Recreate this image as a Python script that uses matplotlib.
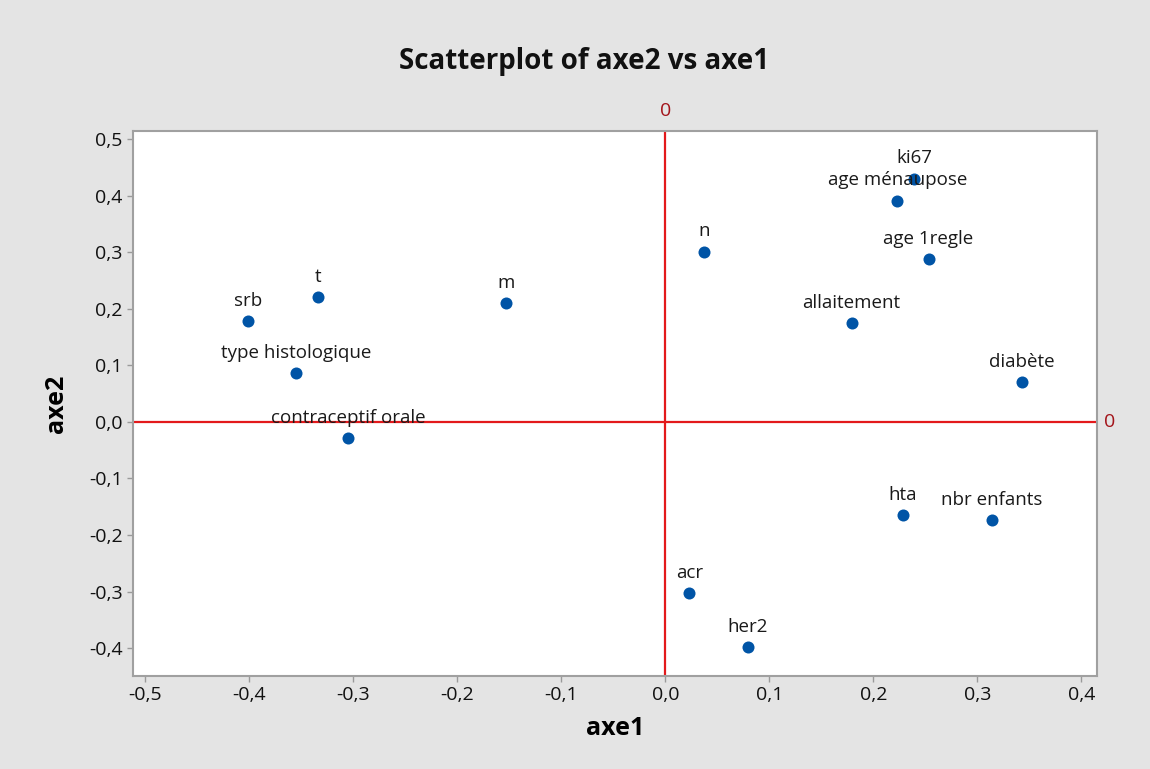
import matplotlib
matplotlib.use("Agg")
import matplotlib.pyplot as plt

plt.rcParams['font.family'] = ['Open Sans', 'DejaVu Sans']

# coordinates
labels = ["ki67", "age ménaupose", "age 1regle", "n", "allaitement", "diabète",
          "hta", "nbr enfants", "acr", "her2", "srb", "t", "m",
          "type histologique", "contraceptif orale"]
axe1 = [0.239, 0.223, 0.253, 0.037, 0.179, 0.343,
        0.228, 0.314, 0.023, 0.079, -0.401, -0.334, -0.153,
        -0.355, -0.305]
axe2 = [0.430, 0.391, 0.287, 0.301, 0.174, 0.070,
        -0.164, -0.174, -0.303, -0.398, 0.178, 0.220, 0.210,
        0.086, -0.028]

xticks = [-0.5, -0.4, -0.3, -0.2, -0.1, 0.0, 0.1, 0.2, 0.3, 0.4]
yticks = [-0.4, -0.3, -0.2, -0.1, 0.0, 0.1, 0.2, 0.3, 0.4, 0.5]

bg = '#e4e4e4'
fig = plt.figure(figsize=(11.5, 7.69), dpi=100, facecolor=bg)
ax = fig.add_axes([133 / 1150, 1 - 676 / 769, (1097 - 133) / 1150, (676 - 131) / 769])
ax.set_facecolor('white')

ax.axvline(0, color='#e3191b', lw=1.6, zorder=1)
ax.axhline(0, color='#e3191b', lw=1.6, zorder=1)
ax.scatter(axe1, axe2, s=75, color='#0054a6', zorder=3, linewidths=0)

for lab, x, y in zip(labels, axe1, axe2):
    ax.annotate(lab, (x, y), xytext=(0, 8), textcoords='offset points',
                ha='center', va='bottom', fontsize=13.5, color='#1a1a1a', zorder=4)

ax.set_xlim(-0.512, 0.415)
ax.set_ylim(-0.449, 0.514)
ax.set_xticks(xticks)
ax.set_yticks(yticks)
ax.set_xticklabels([f"{v:.1f}".replace('.', ',') for v in xticks])
ax.set_yticklabels([f"{v:.1f}".replace('.', ',') for v in yticks])
ax.tick_params(labelsize=14, colors='#111111', color='#9a9a9a', length=4, width=1)

for s in ax.spines.values():
    s.set_color('#a0a0a0')
    s.set_linewidth(1.5)

ax.text(0, 1.02, '0', transform=ax.get_xaxis_transform(), ha='center', va='bottom',
        color='#a3141a', fontsize=14)
ax.text(1.007, 0, '0', transform=ax.get_yaxis_transform(), ha='left', va='center',
        color='#a3141a', fontsize=14)

ax.set_xlabel('axe1', fontsize=18, fontweight='bold', labelpad=8)
ax.set_ylabel('axe2', fontsize=18, fontweight='bold', labelpad=14)
fig.suptitle('Scatterplot of axe2 vs axe1', x=0.508, y=1 - 62 / 769, va='center',
             fontsize=20, fontweight='bold', color='#111111')

fig.savefig('out.png', dpi=100, facecolor=bg)
